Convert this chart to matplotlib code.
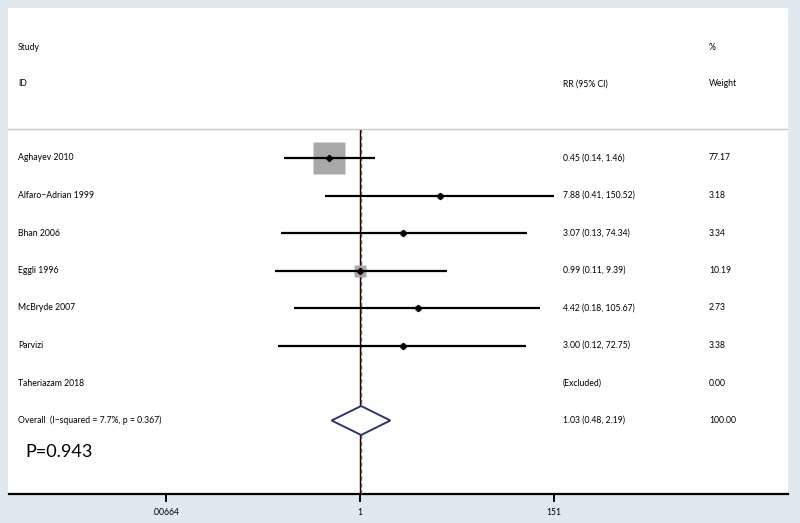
import numpy as np
import matplotlib
matplotlib.use("Agg")
import matplotlib.pyplot as plt
from matplotlib.patches import Polygon
from matplotlib.lines import Line2D

# data
studies = ["Aghayev 2010", "Alfaro\u2212Adrian 1999", "Bhan 2006", "Eggli 1996",
           "McBryde 2007", "Parvizi", "Taheriazam 2018"]
rr = [0.45, 7.88, 3.07, 0.99, 4.42, 3.00, np.nan]
lo = [0.14, 0.41, 0.13, 0.11, 0.18, 0.12, np.nan]
hi = [1.46, 150.52, 74.34, 9.39, 105.67, 72.75, np.nan]
weights = [77.17, 3.18, 3.34, 10.19, 2.73, 3.38, 0.00]
ci_text = ["0.45 (0.14, 1.46)", "7.88 (0.41, 150.52)", "3.07 (0.13, 74.34)",
           "0.99 (0.11, 9.39)", "4.42 (0.18, 105.67)", "3.00 (0.12, 72.75)",
           "(Excluded)"]
overall = (1.03, 0.48, 2.19)
overall_label = "Overall  (I\u2212squared = 7.7%, p = 0.367)"
xticks = [0.00664, 1, 151]
xtick_labels = [".00664", "1", "151"]

plt.rcParams['font.family'] = ['Lato', 'DejaVu Sans']
W, H = 800, 523
fs = 6.2
fig = plt.figure(figsize=(W / 100, H / 100), dpi=100)
fig.patch.set_facecolor("#dfe9ef")

def fx(px):
    return px / W

def fy(py):
    return 1 - py / H

# white panel as a background axes, with the header separator
bg = fig.add_axes([fx(8), fy(494), fx(788) - fx(8), fy(8) - fy(494)], zorder=-5)
bg.set_facecolor("white")
bg.set_xticks([])
bg.set_yticks([])
for s in bg.spines.values():
    s.set_visible(False)
bg.axhline((494 - 129) / (494 - 8), color="#c8c8c8", lw=1)

left, right, top, bottom = 9, 788, 130, 494
ax = fig.add_axes([fx(left), fy(bottom), fx(right) - fx(left), fy(top) - fy(bottom)])
ax.patch.set_alpha(0)
ax.set_xscale("log")
ppd = 89.1  # pixels per decade
ax.set_xlim(10 ** ((left - 360) / ppd), 10 ** ((right - 360) / ppd))
row0, step = 158, 37.5
ax.set_ylim((bottom - row0) / step, (top - row0) / step)

for s in ["top", "right", "left"]:
    ax.spines[s].set_visible(False)
ax.spines["bottom"].set_linewidth(1.6)
ax.set_yticks([])
ax.set_xticks(xticks)
ax.set_xticklabels(xtick_labels, fontsize=fs)
ax.xaxis.set_minor_locator(matplotlib.ticker.NullLocator())
ax.tick_params(axis="x", length=0, pad=10)

# tick marks below the axis line, placed through the data transform
for xt in xticks:
    xd = ax.transData.transform((xt, 0))[0] / W
    fig.add_artist(Line2D([xd, xd], [fy(bottom), fy(bottom + 7)], transform=fig.transFigure,
                          color="black", lw=1.4, zorder=10))

# null line and overall line
ax.axvline(1, color="black", lw=1.0, zorder=2)
ax.axvline(overall[0], color="#9a4a3a", lw=1.0, ls=(0, (3, 2)), zorder=3)

tr = ax.get_yaxis_transform()
x_lab = (18 - left) / (right - left)
x_ci = (563 - left) / (right - left)
x_w = (709 - left) / (right - left)

max_side = 32  # pixels for the largest weight
for i, (r, l, h, w) in enumerate(zip(rr, lo, hi, weights)):
    ax.text(x_lab, i, studies[i], transform=tr, va="center", ha="left", fontsize=fs)
    ax.text(x_ci, i, ci_text[i], transform=tr, va="center", ha="left", fontsize=fs)
    ax.text(x_w, i, f"{w:.2f}", transform=tr, va="center", ha="left", fontsize=fs)
    if np.isnan(r):
        continue
    side = max_side * np.sqrt(w / max(weights))
    ax.plot([l, h], [i, i], color="black", lw=1.6, zorder=4, solid_capstyle="butt")
    ax.plot([r], [i], marker="s", ms=side * 0.72, color="#a9a9a9", mec="none", zorder=3)
    ax.plot([r], [i], marker="D", ms=3.2, color="black", zorder=5)

# overall diamond
n = len(studies)
est, olo, ohi = overall
dh = 14.5 / step
ax.add_patch(Polygon([(olo, n), (est, n - dh), (ohi, n), (est, n + dh)],
                     closed=True, facecolor="white", edgecolor="#2e3570", lw=1.4, zorder=5))
ax.text(x_lab, n, overall_label, transform=tr, va="center", ha="left", fontsize=fs)
ax.text(x_ci, n, f"{est:.2f} ({olo:.2f}, {ohi:.2f})", transform=tr,
        va="center", ha="left", fontsize=fs)
ax.text(x_w, n, "100.00", transform=tr, va="center", ha="left", fontsize=fs)

# headers
fig.text(fx(18), fy(47), "Study", va="center", ha="left", fontsize=fs)
fig.text(fx(18), fy(84), "ID", va="center", ha="left", fontsize=fs)
fig.text(fx(563), fy(84), "RR (95% CI)", va="center", ha="left", fontsize=fs)
fig.text(fx(709), fy(47), "%", va="center", ha="left", fontsize=fs)
fig.text(fx(709), fy(84), "Weight", va="center", ha="left", fontsize=fs)

fig.text(fx(25), fy(452), "P=0.943", va="center", ha="left", fontsize=13)

fig.savefig("out.png", dpi=100, facecolor=fig.get_facecolor())
